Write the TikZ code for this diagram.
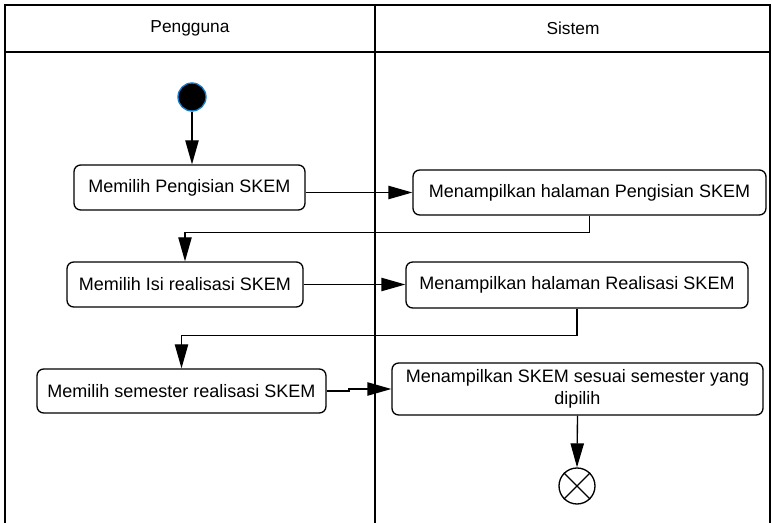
\documentclass[tikz,border=0pt]{standalone}
\usepackage{fontspec}
\setmainfont{Liberation Sans}
\usetikzlibrary{arrows.meta}
\begin{document}
\begin{tikzpicture}[x=0.75pt,y=-0.75pt,
  line width=1pt,
  act/.style={draw, rounded corners=5pt, align=center, inner sep=0pt,
    font=\fontsize{13.5pt}{16pt}\selectfont},
  lane/.style={font=\fontsize{13pt}{15pt}\selectfont},
  flow/.style={-{Triangle[length=18pt,width=10pt]}}]
  % page area
  \useasboundingbox (0,0) rectangle (772,523);
  \fill[white] (0,0) rectangle (772,523);

  % swimlanes
  \draw (5,523) -- (5,5) -- (770,5) -- (770,523);
  \draw (5,52) -- (770,52);
  \draw (375,5) -- (375,523);
  \node[lane] (lane1) at (190,28) {Pengguna};
  \node[lane] (lane2) at (573,28) {Sistem};

  % start and end
  \node[circle, fill=black, draw=cyan!60!blue, line width=1pt,
        minimum size=28pt*0.75, inner sep=0pt] (start) at (192,97) {};
  \node[circle, draw, minimum size=36pt*0.75, inner sep=0pt] (stop) at (577,486) {};
  \draw (stop.north west) -- (stop.south east)
        (stop.north east) -- (stop.south west);

  % actions
  \node[act, minimum width=231*0.75pt, minimum height=45*0.75pt] (a1) at (189.5,187.5)
    {Memilih Pengisian SKEM};
  \node[act, minimum width=353*0.75pt, minimum height=45*0.75pt] (s1) at (589.5,192.5)
    {Menampilkan halaman Pengisian SKEM};
  \node[act, minimum width=236*0.75pt, minimum height=45*0.75pt] (a2) at (185,284.5)
    {Memilih Isi realisasi SKEM};
  \node[act, minimum width=342*0.75pt, minimum height=46*0.75pt] (s2) at (577,285)
    {Menampilkan halaman Realisasi SKEM};
  \node[act, minimum width=289*0.75pt, minimum height=44*0.75pt] (a3) at (181.5,391)
    {Memilih semester realisasi SKEM};
  \node[act, minimum width=371*0.75pt, minimum height=52*0.75pt] (s3) at (577.5,389)
    {Menampilkan SKEM sesuai semester yang\\dipilih};

  % control flow
  \coordinate (j1) at (349,391);
  \draw[flow] (start) -- (start |- a1.north);
  \draw[flow] (a1.east |- s1.west) -- (s1.west);
  \draw[flow] (s1.south) -- ++(0,17) -| (a2.north);
  \draw[flow] (a2.east) -- (a2.east -| s2.west);
  \draw[flow] (s2.south) -- ++(0,27) -| (a3.north);
  \draw[flow] (a3.east) -- (j1) -- (j1 |- s3.west) -- (s3.west);
  \draw[flow] (s3.south) -- (stop.north);
\end{tikzpicture}
\end{document}
